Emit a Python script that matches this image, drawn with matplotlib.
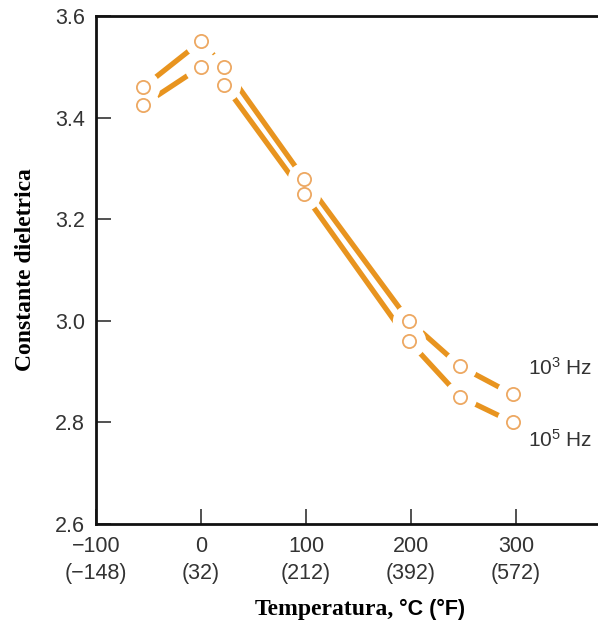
import matplotlib.pyplot as plt

# datos
temp_c = [-55, 0, 22, 98, 198, 247, 297]
eps_1k = [3.46, 3.55, 3.50, 3.28, 3.00, 2.91, 2.855]
eps_100k = [3.425, 3.50, 3.465, 3.25, 2.96, 2.85, 2.80]

xticks = [-100, 0, 100, 200, 300]
xlabels = ['\u2212100\n(\u2212148)', '0\n(32)', '100\n(212)', '200\n(392)', '300\n(572)']
yticks = [2.6, 2.8, 3.0, 3.2, 3.4, 3.6]

naranja = '#e8941f'
borde = '#eda862'
gris = '#333333'

plt.rcParams['mathtext.fontset'] = 'custom'
plt.rcParams['mathtext.rm'] = 'Liberation Sans'
plt.rcParams['mathtext.it'] = 'Liberation Sans:italic'

fig = plt.figure(figsize=(5.98, 6.26), dpi=100)
ax = fig.add_axes([0.1605, 0.163, 0.8395, 0.8115])

# lineas
ax.plot(temp_c, eps_1k, color=naranja, lw=3.8, solid_capstyle='butt', zorder=2)
ax.plot(temp_c, eps_100k, color=naranja, lw=3.8, solid_capstyle='butt', zorder=2)

# huecos blancos alrededor de los puntos
for serie in [eps_1k, eps_100k]:
    ax.plot(temp_c, serie, ls='none', marker='o', ms=24, mfc='white', mec='none', zorder=3)
for serie in [eps_1k, eps_100k]:
    ax.plot(temp_c, serie, ls='none', marker='o', ms=9.5, mfc='white', mec=borde, mew=1.3, zorder=4)

ax.set_xlim(-100, 378)
ax.set_ylim(2.6, 3.6)
ax.set_xticks(xticks)
ax.set_xticklabels(xlabels, linespacing=1.35)
ax.set_yticks(yticks)
ax.set_yticklabels(['2.6', '2.8', '3.0', '3.2', '3.4', '3.6'])
ax.tick_params(direction='in', length=11, width=1.2, color=gris, labelcolor=gris, labelsize=15.5)
ax.tick_params(axis='x', pad=9)
ax.tick_params(axis='y', pad=8)
for lab in ax.get_xticklabels() + ax.get_yticklabels():
    lab.set_family(['Liberation Sans', 'DejaVu Sans'])

ax.spines['right'].set_visible(False)
for s in ['left', 'bottom', 'top']:
    ax.spines[s].set_linewidth(2)
    ax.spines[s].set_color('#111111')

ax.text(311, 2.908, '$10^3$ Hz', fontsize=15, color=gris, family='Liberation Sans',
        ha='left', va='center')
ax.text(311, 2.766, '$10^5$ Hz', fontsize=15, color=gris, family='Liberation Sans',
        ha='left', va='center')

fig.text(0.042, 0.569, 'Constante dieletrica', rotation=90, ha='center', va='center',
         family='Liberation Serif', fontweight='bold', fontsize=17)
fig.text(0.658, 0.026, 'Temperatura,', ha='right', va='center',
         family='Liberation Serif', fontweight='bold', fontsize=17)
fig.text(0.668, 0.026, '\u00b0C (\u00b0F)', ha='left', va='center',
         family='Liberation Sans', fontweight='bold', fontsize=15.5)

plt.savefig('out.png', dpi=100)
